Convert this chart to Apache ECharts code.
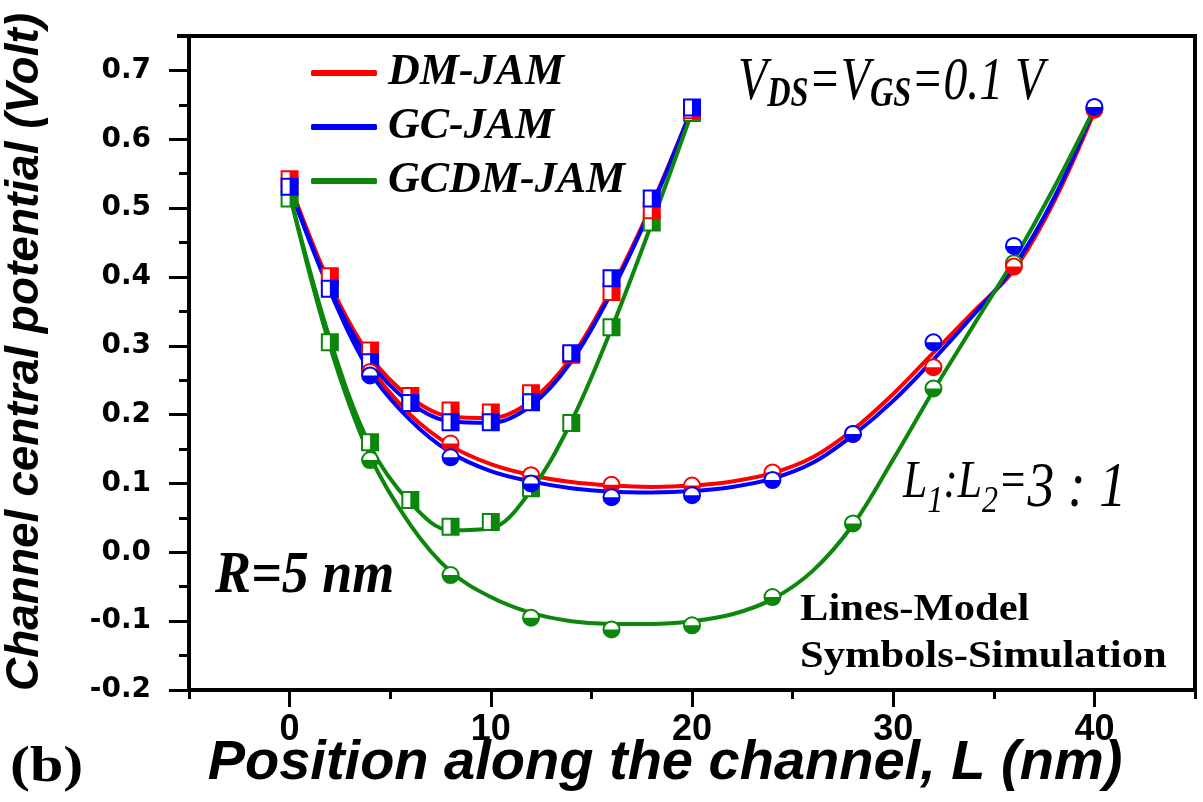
<!DOCTYPE html>
<html>
<head>
<meta charset="utf-8">
<script src="https://cdn.jsdelivr.net/npm/echarts@6/dist/echarts.min.js"></script>
<style>
  html, body { margin: 0; padding: 0; background: #fff; overflow: hidden; }
  #chart { width: 1203px; height: 802px; }
</style>
</head>
<body>
<div id="chart"></div>
<script>
// ---- Model curves (lines), position in nm ----
const modelPosShort = [0, 2, 4, 6, 8, 10, 12, 14, 16, 18, 20];
const dmShortModel   = [0.535, 0.390, 0.285, 0.225, 0.197, 0.195, 0.220, 0.283, 0.383, 0.505, 0.645];
const gcShortModel   = [0.530, 0.383, 0.277, 0.217, 0.190, 0.188, 0.213, 0.277, 0.378, 0.502, 0.645];
const gcdmShortModel = [0.520, 0.310, 0.155, 0.072, 0.032, 0.035, 0.090, 0.190, 0.325, 0.478, 0.640];

const modelPosLong = [0, 2, 4, 6, 8, 10, 12, 14, 16, 18, 20, 22, 24, 26, 28, 30, 32, 34, 36, 38, 40];
const dmLongModel   = [0.535, 0.385, 0.270, 0.200, 0.155, 0.128, 0.112, 0.102, 0.097, 0.095, 0.097, 0.103, 0.115, 0.138, 0.178, 0.230, 0.290, 0.350, 0.410, 0.510, 0.640];
const gcLongModel   = [0.530, 0.380, 0.262, 0.192, 0.145, 0.118, 0.103, 0.093, 0.088, 0.087, 0.089, 0.095, 0.107, 0.130, 0.170, 0.220, 0.280, 0.345, 0.415, 0.515, 0.645];
const gcdmLongModel = [0.520, 0.300, 0.140, 0.040, -0.028, -0.065, -0.088, -0.100, -0.104, -0.104, -0.100, -0.090, -0.068, -0.027, 0.040, 0.135, 0.235, 0.330, 0.425, 0.530, 0.645];

// ---- Simulation points (symbols) ----
const simPosShort = [0, 2, 4, 6, 8, 10, 12, 14, 16, 18, 20];
const dmShortSim   = [0.542, 0.401, 0.293, 0.227, 0.206, 0.203, 0.231, 0.287, 0.378, 0.497, 0.642];
const gcShortSim   = [0.531, 0.383, 0.276, 0.217, 0.189, 0.189, 0.218, 0.289, 0.398, 0.514, 0.646];
const gcdmShortSim = [0.514, 0.305, 0.160, 0.076, 0.037, 0.044, 0.093, 0.188, 0.327, 0.479, 0.638];

const simPosLong = [4, 8, 12, 16, 20, 24, 28, 32, 36, 40];
const dmLongSim   = [0.262, 0.158, 0.112, 0.098, 0.097, 0.116, 0.172, 0.269, 0.415, 0.643];
const gcLongSim   = [0.257, 0.138, 0.100, 0.080, 0.083, 0.105, 0.172, 0.305, 0.445, 0.647];
const gcdmLongSim = [0.134, -0.033, -0.095, -0.112, -0.106, -0.065, 0.042, 0.238, 0.420, 0.645];

// ---- Axis ticks ----
const xTickValues = [0, 10, 20, 30, 40];
const yTickValues = [-0.2, -0.1, 0.0, 0.1, 0.2, 0.3, 0.4, 0.5, 0.6, 0.7];

const seriesNames = ['DM-JAM', 'GC-JAM', 'GCDM-JAM'];
const seriesColors = ['#ff0000', '#0000ff', '#0c870c'];

const X_RANGE = [-5, 45];
const Y_RANGE = [-0.2, 0.75];

const pairs = (xs, ys) => xs.map((x, i) => [x, ys[i]]);

function modelLine(name, color, xs, ys) {
  return {
    type: 'line', name: name, data: pairs(xs, ys),
    smooth: 0.35, showSymbol: false, z: 2,
    itemStyle: { color: color },
    lineStyle: { color: color, width: 4 }
  };
}

// Half-filled square: left half white, right half coloured
function squareSymbols(name, color, xs, ys) {
  return {
    type: 'custom', name: name, data: pairs(xs, ys), z: 4,
    encode: { x: 0, y: 1 },
    renderItem: function (params, api) {
      const p = api.coord([api.value(0), api.value(1)]);
      const s = 16;
      return {
        type: 'group',
        children: [
          { type: 'rect', shape: { x: p[0] - s / 2, y: p[1] - s / 2, width: s, height: s },
            style: { fill: '#fff', stroke: color, lineWidth: 2 } },
          { type: 'rect', shape: { x: p[0], y: p[1] - s / 2, width: s / 2, height: s },
            style: { fill: color } }
        ]
      };
    }
  };
}

// Half-filled circle: top half white, bottom half coloured
function circleSymbols(name, color, xs, ys) {
  return {
    type: 'custom', name: name, data: pairs(xs, ys), z: 4,
    encode: { x: 0, y: 1 },
    renderItem: function (params, api) {
      const p = api.coord([api.value(0), api.value(1)]);
      const r = 8;
      return {
        type: 'group',
        children: [
          { type: 'circle', shape: { cx: p[0], cy: p[1], r: r },
            style: { fill: '#fff', stroke: color, lineWidth: 2 } },
          { type: 'sector', shape: { cx: p[0], cy: p[1], r0: 0, r: r, startAngle: 0, endAngle: Math.PI, clockwise: true },
            style: { fill: color } }
        ]
      };
    }
  };
}

// An axis that only draws short minor ticks
function minorTickAxis(position, range, step) {
  return {
    type: 'value', min: range[0], max: range[1], interval: step, position: position,
    axisLine: { show: false, onZero: false },
    axisTick: { show: true, length: position === 'left' ? 10 : 9, lineStyle: { color: '#000', width: 3 } },
    axisLabel: { show: false }, splitLine: { show: false }
  };
}

const chart = echarts.init(document.getElementById('chart'), null, { renderer: 'canvas' });

const option = {
  backgroundColor: '#fff',
  animation: false,
  grid: { left: 189, right: 8, top: 36, bottom: 112 },
  legend: {
    orient: 'vertical', left: 306, top: 45,
    data: seriesNames,
    icon: 'roundRect', itemWidth: 66, itemHeight: 6, itemGap: 8,
    selectedMode: false,
    textStyle: {
      fontFamily: 'Liberation Serif', fontStyle: 'italic', fontWeight: 'bold',
      fontSize: 44, color: '#000', lineHeight: 46, padding: [0, 0, 0, 6]
    }
  },
  xAxis: [
    {
      type: 'value', min: X_RANGE[0], max: X_RANGE[1], interval: 5, position: 'bottom',
      axisLine: { onZero: false, lineStyle: { color: '#000', width: 4 } },
      axisTick: { show: true, customValues: xTickValues, length: 17, lineStyle: { color: '#000', width: 3 } },
      axisLabel: {
        customValues: xTickValues, margin: 22, color: '#000',
        fontFamily: 'Liberation Sans', fontWeight: 'bold', fontSize: 36
      },
      splitLine: { show: false }
    },
    minorTickAxis('bottom', X_RANGE, 5)
  ],
  yAxis: [
    {
      type: 'value', min: Y_RANGE[0], max: Y_RANGE[1], interval: 0.1, position: 'left',
      axisLine: { show: true, onZero: false, lineStyle: { color: '#000', width: 4 } },
      axisTick: { show: true, customValues: yTickValues, length: 20, lineStyle: { color: '#000', width: 3 } },
      axisLabel: {
        customValues: yTickValues, margin: 38, color: '#000',
        fontFamily: 'DejaVu Sans', fontWeight: 'bold', fontSize: 28,
        formatter: v => v.toFixed(1)
      },
      splitLine: { show: false }
    },
    minorTickAxis('left', Y_RANGE, 0.05)
  ],
  graphic: [
    { // y-axis title
      type: 'text', x: 25, y: 352, rotation: Math.PI / 2,
      style: {
        text: 'Channel central potential (Volt)', fill: '#000',
        font: 'italic bold 46px "Liberation Sans"', align: 'center', verticalAlign: 'middle'
      }
    },
    { // x-axis title
      type: 'text', x: 665, y: 764,
      style: {
        text: 'Position along the channel, L (nm)', fill: '#000',
        font: 'italic bold 56px "Liberation Sans"', align: 'center', verticalAlign: 'middle'
      }
    },
    { // panel tag
      type: 'text', x: 10, y: 768, scaleX: 1.2,
      style: { text: '(b)', fill: '#000', font: 'bold 50px "Liberation Serif"', align: 'left', verticalAlign: 'middle' }
    },
    { // bias condition
      type: 'text', x: 738, y: 52, scaleX: 0.77,
      style: {
        text: '{v|V}{s|DS}{v|=V}{s|GS}{v|=0.1 V}',
        align: 'left', verticalAlign: 'top',
        rich: {
          v: { font: 'italic 62px "Liberation Serif"', fill: '#000', lineHeight: 64, verticalAlign: 'top' },
          s: { font: 'italic bold 42px "Liberation Serif"', fill: '#000', lineHeight: 20, verticalAlign: 'bottom' }
        }
      }
    },
    { // length ratio
      type: 'text', x: 903, y: 457, scaleX: 0.84,
      style: {
        text: '{l|L}{s|1}{l|:L}{s|2}{l|=}{b|3 : 1}',
        align: 'left', verticalAlign: 'top',
        rich: {
          l: { font: 'italic 52px "Liberation Serif"', fill: '#000', lineHeight: 64, verticalAlign: 'top' },
          s: { font: 'italic 38px "Liberation Serif"', fill: '#000', lineHeight: 40, verticalAlign: 'bottom' },
          b: { font: 'italic 64px "Liberation Serif"', fill: '#000', lineHeight: 64, verticalAlign: 'middle' }
        }
      }
    },
    { // radius
      type: 'text', x: 215, y: 576, scaleX: 0.9,
      style: { text: 'R=5 nm', fill: '#000', font: 'italic bold 60px "Liberation Serif"', align: 'left', verticalAlign: 'middle' }
    },
    {
      type: 'text', x: 800, y: 610, scaleX: 1.12,
      style: { text: 'Lines-Model', fill: '#000', font: 'bold 38px "Liberation Serif"', align: 'left', verticalAlign: 'middle' }
    },
    {
      type: 'text', x: 800, y: 657, scaleX: 1.12,
      style: { text: 'Symbols-Simulation', fill: '#000', font: 'bold 38px "Liberation Serif"', align: 'left', verticalAlign: 'middle' }
    }
  ],
  series: [
    modelLine(seriesNames[0], seriesColors[0], modelPosShort, dmShortModel),
    modelLine(seriesNames[0], seriesColors[0], modelPosLong, dmLongModel),
    modelLine(seriesNames[1], seriesColors[1], modelPosShort, gcShortModel),
    modelLine(seriesNames[1], seriesColors[1], modelPosLong, gcLongModel),
    modelLine(seriesNames[2], seriesColors[2], modelPosShort, gcdmShortModel),
    modelLine(seriesNames[2], seriesColors[2], modelPosLong, gcdmLongModel),
    squareSymbols('GCDM-JAM sim', seriesColors[2], simPosShort, gcdmShortSim),
    squareSymbols('DM-JAM sim', seriesColors[0], simPosShort, dmShortSim),
    squareSymbols('GC-JAM sim', seriesColors[1], simPosShort, gcShortSim),
    circleSymbols('GCDM-JAM sim', seriesColors[2], simPosLong, gcdmLongSim),
    circleSymbols('DM-JAM sim', seriesColors[0], simPosLong, dmLongSim),
    circleSymbols('GC-JAM sim', seriesColors[1], simPosLong, gcLongSim)
  ]
};

chart.setOption(option);

// Closed plot frame: top and right edges follow the axis extents
const topLeft = chart.convertToPixel({ gridIndex: 0 }, [X_RANGE[0], Y_RANGE[1]]);
const bottomRight = chart.convertToPixel({ gridIndex: 0 }, [X_RANGE[1], Y_RANGE[0]]);
chart.setOption({
  graphic: [{
    id: 'plot-frame', type: 'polyline', z: 100, silent: true,
    shape: { points: [[topLeft[0] - 12, topLeft[1]], [bottomRight[0], topLeft[1]], [bottomRight[0], bottomRight[1] + 2]] },
    style: { stroke: '#000', lineWidth: 4 }
  }]
});
</script>
</body>
</html>
